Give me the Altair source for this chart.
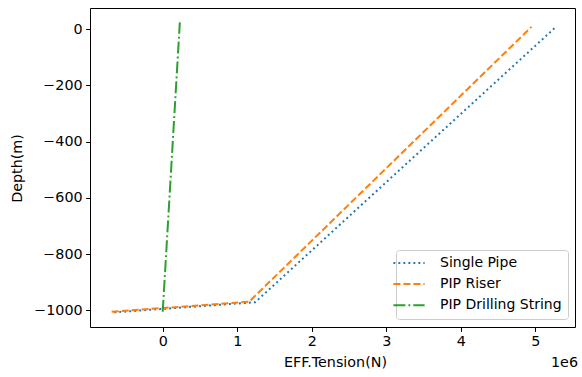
import altair as alt
import pandas as pd

# ---- data ----
series_names = ["Single Pipe", "PIP Riser", "PIP Drilling String"]

single_pipe_tension = [-0.65e6, 1.24e6, 5.275e6]
single_pipe_depth = [-1007, -971, 7]

pip_riser_tension = [-0.685e6, 1.16e6, 4.95e6]
pip_riser_depth = [-1005, -969, 8]

pip_drill_tension = [0.0, 0.23e6]
pip_drill_depth = [-1005, 24]

x_ticks = [0, 1e6, 2e6, 3e6, 4e6, 5e6]
y_ticks = [0, -200, -400, -600, -800, -1000]

colors = ["#1f77b4", "#ff7f0e", "#2ca02c"]
dashes = [[1.9, 3.1], [7, 3], [12, 3, 1.9, 3]]

rows = []
for name, xs, ys in zip(series_names,
                        [single_pipe_tension, pip_riser_tension, pip_drill_tension],
                        [single_pipe_depth, pip_riser_depth, pip_drill_depth]):
    for i, (xv, yv) in enumerate(zip(xs, ys)):
        rows.append({"series": name, "tension": xv, "depth": yv, "idx": i})
df = pd.DataFrame(rows)

FONT = "DejaVu Sans"
FS = 14.3

legend = alt.Legend(title=None, orient="none", legendX=306, legendY=242,
                    symbolType="M-2.6,0L2.6,0", symbolSize=144,
                    symbolStrokeWidth=2,
                    labelFont=FONT, labelFontSize=14, labelColor="#000",
                    fillColor="white", strokeColor="#cccccc",
                    cornerRadius=3, padding=6, rowPadding=7.1,
                    labelOffset=24)

lines = alt.Chart(df).mark_line(strokeWidth=2).encode(
    x=alt.X("tension:Q",
            scale=alt.Scale(domain=[-0.976e6, 5.534e6], nice=False, zero=False),
            axis=alt.Axis(values=x_ticks, labelExpr="datum.value / 1000000",
                          title="EFF.Tension(N)", titleX=245, titleY=35,
                          titleBaseline="middle", titleFontWeight="normal")),
    y=alt.Y("depth:Q",
            scale=alt.Scale(domain=[-1059, 75], nice=False, zero=False),
            axis=alt.Axis(values=y_ticks,
                          labelExpr="datum.value < 0 ? '\u2212' + abs(datum.value) : datum.label",
                          title="Depth(m)", titleX=-73, titleY=160,
                          titleBaseline="middle", titleAlign="center",
                          titleFontWeight="normal")),
    color=alt.Color("series:N",
                    scale=alt.Scale(domain=series_names, range=colors),
                    legend=legend),
    strokeDash=alt.StrokeDash("series:N",
                              scale=alt.Scale(domain=series_names, range=dashes),
                              legend=legend),
    order="idx:Q",
)

offset_text = alt.Chart(pd.DataFrame({"label": ["1e6"]})).mark_text(
    font=FONT, fontSize=FS, align="right", baseline="middle", color="#000"
).encode(x=alt.value(488), y=alt.value(355), text="label:N")

chart = alt.layer(lines, offset_text).properties(
    width=485, height=319,
    autosize=alt.AutoSizeParams(type="none"),
    padding={"left": 90, "top": 8, "right": 7, "bottom": 50},
).configure_view(
    stroke="#000", strokeWidth=1
).configure_axis(
    labelFont=FONT, labelFontSize=FS, labelColor="#000",
    titleFont=FONT, titleFontSize=FS, titleColor="#000",
    domain=False, grid=False, ticks=True, tickColor="#000", tickSize=4.4,
    tickWidth=1, labelPadding=3.5,
)

chart.save("out.html", embed_options={"renderer": "svg", "actions": False})
